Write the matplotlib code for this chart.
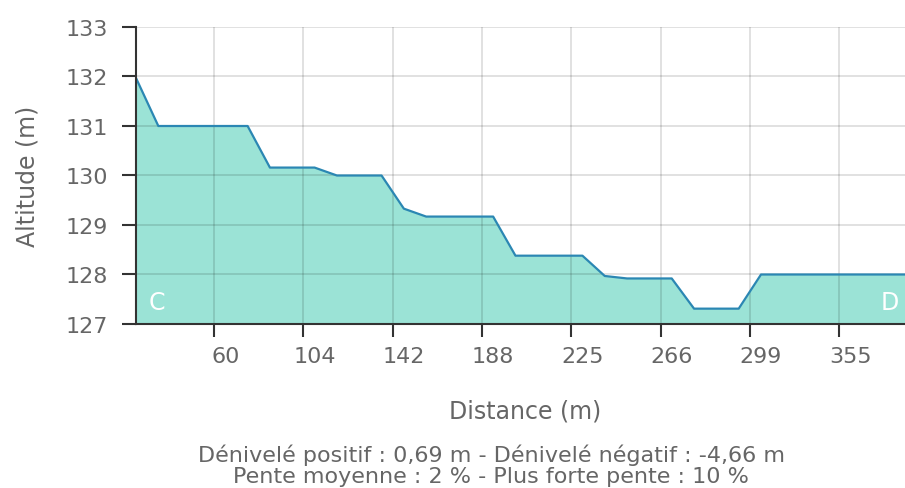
import numpy as np
import matplotlib.pyplot as plt

# profile samples (index along the track) and altitude in m
sample_idx = list(range(36))
altitude = [131.97, 131.0, 131.0, 131.0, 131.0, 131.0, 130.16, 130.16, 130.16,
            130.0, 130.0, 130.0, 129.33, 129.17, 129.17, 129.17, 129.17,
            128.38, 128.38, 128.38, 128.38, 127.97, 127.92, 127.92, 127.92,
            127.31, 127.31, 127.31, 128.0, 128.0, 128.0, 128.0, 128.0, 128.0,
            128.0, 128.0]

label_idx = [4, 8, 12, 16, 20, 24, 28, 32]
dist_labels = ["60", "104", "142", "188", "225", "266", "299", "355"]
y_ticks = [127, 128, 129, 130, 131, 132, 133]

stats_1 = "Dénivelé positif : 0,69 m - Dénivelé négatif : -4,66 m"
stats_2 = "Pente moyenne : 2 % - Plus forte pente : 10 %"

txt = "#666666"
plt.rcParams['font.family'] = ['DejaVu Sans']

fig = plt.figure(figsize=(9.05, 4.89), dpi=100)
ax = fig.add_axes([136 / 905, 1 - 325 / 489, 1 - 136 / 905, 297 / 489])

ax.fill_between(sample_idx, altitude, 127, color="#9be3d6", lw=0, zorder=1)
ax.plot(sample_idx, altitude, color="#2b87b3", lw=1.6, zorder=3)

ax.set_xlim(0, 34.45)
ax.set_ylim(127, 133)

# ticks sit between the labelled samples
ax.set_xticks([i - 0.5 for i in label_idx])
ax.set_xticklabels([])
ax.set_xticks(label_idx, dist_labels, minor=True)
ax.tick_params(axis="x", which="major", length=9, width=1.5, color="#333333")
ax.tick_params(axis="x", which="minor", length=0, pad=16, labelsize=16, labelcolor=txt)
ax.set_yticks(y_ticks)
ax.tick_params(axis="y", length=10, width=1.5, color="#333333", pad=10,
               labelsize=16, labelcolor=txt)

ax.grid(True, which="major", color="black", alpha=0.13, lw=1.3, zorder=2)
ax.set_axisbelow(False)
for s in ["top", "right"]:
    ax.spines[s].set_visible(False)
for s in ["left", "bottom"]:
    ax.spines[s].set_color("#333333")
    ax.spines[s].set_linewidth(1.5)
    ax.spines[s].set_zorder(4)

ax.text(0.95, 127.45, "C", color="white", fontsize=17, ha="center", va="center", zorder=5)
ax.text(33.75, 127.45, "D", color="white", fontsize=17, ha="center", va="center", zorder=5)

fig.text(28 / 905, 1 - 176 / 489, "Altitude (m)", rotation=90, color=txt,
         fontsize=17, ha="center", va="center")
fig.text(525 / 905, 1 - 411 / 489, "Distance (m)", color=txt,
         fontsize=17, ha="center", va="center")
fig.text(491 / 905, 1 - 462 / 489, stats_1, color=txt, fontsize=16,
         ha="center", va="baseline")
fig.text(491 / 905, 1 - 483 / 489, stats_2, color=txt, fontsize=16,
         ha="center", va="baseline")

fig.savefig("out.png", dpi=100)
